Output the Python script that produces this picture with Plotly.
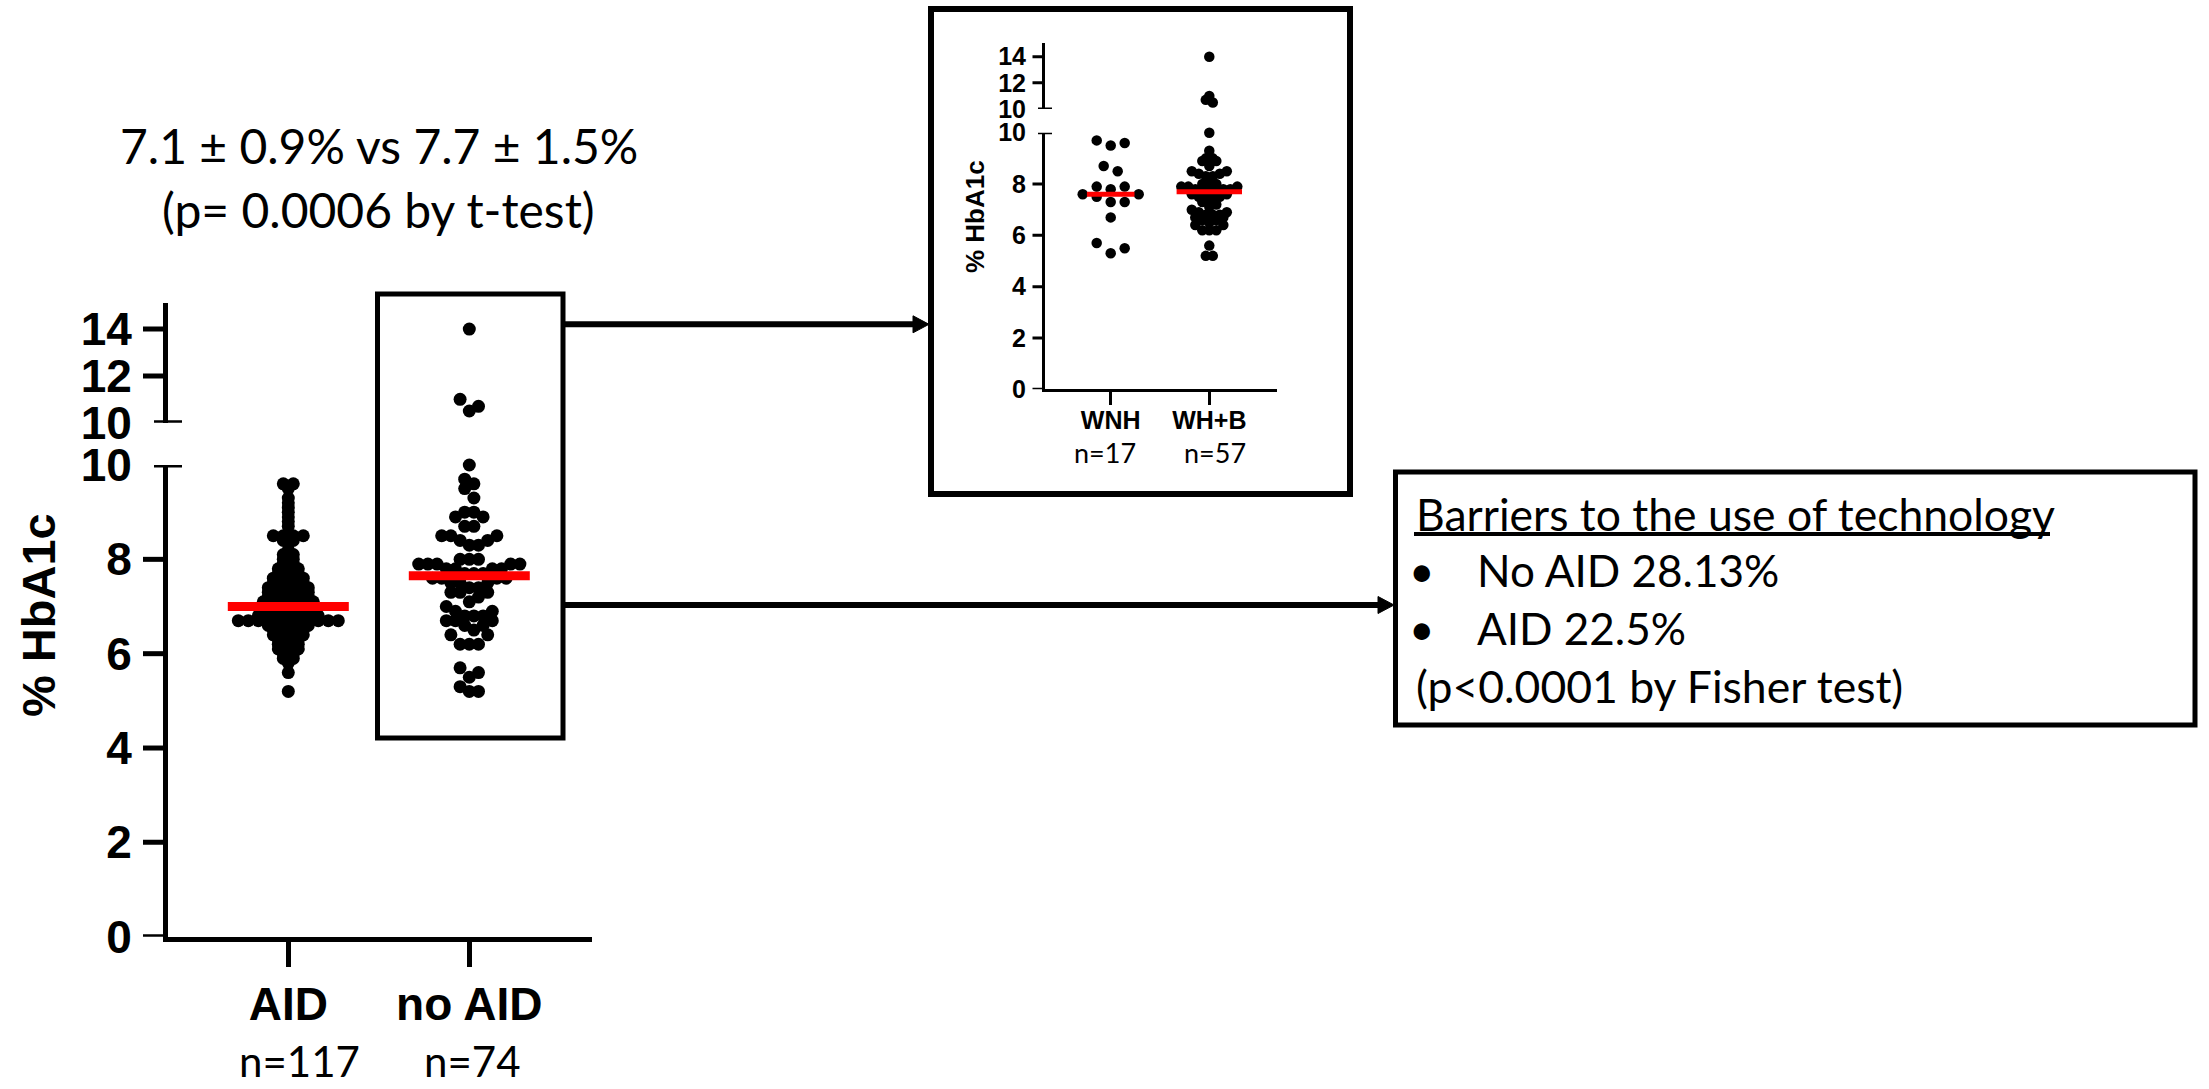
import statistics
import plotly.graph_objects as go

# ---------------- data ----------------
groups = ["AID", "no AID"]
group_n_labels = ["n=117", "n=74"]

aid_hba1c = [
    9.6, 9.6, 9.5, 9.3, 9.2, 9.1, 9.0, 8.9, 8.8, 8.7,
    8.5, 8.5, 8.5, 8.5, 8.4, 8.4, 8.2, 8.1, 8.1, 8.0,
    8.0, 7.9, 7.9, 7.8, 7.8, 7.8, 7.7, 7.7, 7.7, 7.6,
    7.6, 7.6, 7.6, 7.5, 7.5, 7.5, 7.5, 7.4, 7.4, 7.4,
    7.4, 7.4, 7.3, 7.3, 7.3, 7.3, 7.3, 7.2, 7.2, 7.2,
    7.2, 7.2, 7.1, 7.1, 7.1, 7.1, 7.1, 7.1, 7.0, 7.0,
    7.0, 7.0, 7.0, 7.0, 6.9, 6.9, 6.9, 6.9, 6.9, 6.9,
    6.8, 6.8, 6.8, 6.8, 6.8, 6.8, 6.8, 6.7, 6.7, 6.7,
    6.7, 6.7, 6.7, 6.7, 6.7, 6.7, 6.7, 6.7, 6.6, 6.6,
    6.6, 6.6, 6.6, 6.5, 6.5, 6.5, 6.5, 6.4, 6.4, 6.4,
    6.4, 6.3, 6.3, 6.3, 6.2, 6.2, 6.2, 6.1, 6.1, 6.1,
    6.0, 6.0, 5.9, 5.9, 5.8, 5.6, 5.2,
]

subgroups = ["WNH", "WH+B"]
subgroup_n_labels = ["n=17", "n=57"]

wnh_hba1c = [9.7, 9.6, 9.5, 8.7, 8.5, 7.9, 7.9, 7.8, 7.6, 7.6,
             7.5, 7.3, 7.3, 6.7, 5.7, 5.5, 5.3]

whb_hba1c = [14.0, 11.0, 10.7, 10.5, 10.0, 9.3, 9.0, 9.0, 8.9, 8.9,
             8.7, 8.5, 8.5, 8.4, 8.4, 8.3, 8.3, 8.0, 8.0, 8.0,
             7.9, 7.9, 7.9, 7.8, 7.8, 7.8, 7.7, 7.7, 7.7, 7.6,
             7.6, 7.5, 7.5, 7.4, 7.4, 7.3, 7.2, 7.1, 7.0, 6.9,
             6.9, 6.8, 6.8, 6.8, 6.7, 6.7, 6.6, 6.6, 6.5, 6.4,
             6.4, 6.2, 6.2, 6.2, 5.6, 5.2, 5.2]

# the no-AID group is the union of the two ethnicity subgroups
no_aid_hba1c = wnh_hba1c + whb_hba1c

lower_ticks = [0, 2, 4, 6, 8, 10]
upper_ticks = [10, 12, 14]
axis_break = 10

summary_lines = ["7.1 ± 0.9% vs 7.7 ± 1.5%", "(p= 0.0006 by t-test)"]
barrier_title = "Barriers to the use of technology"
barrier_items = ["No AID 28.13%", "AID 22.5%"]
barrier_note = "(p<0.0001 by Fisher test)"
y_title = "% HbA1c"

# ---------------- page geometry (pixels) ----------------
W, H = 2209, 1089


def px(x):
    return x / W


def py(y):
    return 1 - y / H


BOLD = "Liberation Sans, Arial, sans-serif"
TEXT = "Lato, Carlito, Calibri, sans-serif"

# main panel: bins/spacing (px) control how the scatter-dot rows are built
M = dict(ax=168, xend=592, cats=(288.3, 469.3), y0=936.7, y10=465.0,
         up10=422.7, uptop=302.7, up_ppu=23.4, lw=5, ticklen=25, cap=14,
         dot=13, bins=(4.0, 13.0), spacing=(10.0, 9.2), font=46)
# inset panel
S = dict(ax=1045, xend=1276.7, cats=(1110.7, 1209.3), y0=389.3, y10=132.7,
         up10=109.0, uptop=43.3, up_ppu=13.07, lw=3, ticklen=12.5, cap=7,
         dot=10.5, bins=(10.5, 6.4), spacing=(14.0, 7.0), font=25)


def panel_scales(p):
    x_ppu = p["cats"][1] - p["cats"][0]
    xr = [(p["ax"] - p["cats"][0]) / x_ppu, (p["xend"] - p["cats"][0]) / x_ppu]
    lo_ppu = (p["y0"] - p["y10"]) / 10.0
    up_top = axis_break + (p["up10"] - p["uptop"]) / p["up_ppu"]
    return x_ppu, xr, lo_ppu, up_top


def dot_rows(values, lo_ppu, up_ppu, bin_px, spacing):
    """Scatter-dot layout: values closer than bin_px share a centred row."""
    def ypix(v):
        if v > axis_break:
            return 100000 + (v - axis_break) * up_ppu
        return v * lo_ppu

    order = sorted(range(len(values)), key=lambda i: ypix(values[i]))
    rows, cur, start = [], [], None
    for i in order:
        y = ypix(values[i])
        if cur and y - start < bin_px:
            cur.append(i)
        else:
            if cur:
                rows.append(cur)
            cur, start = [i], y
    rows.append(cur)

    offs = [0.0] * len(values)
    for row in rows:
        n = len(row)
        slots = [(j - (n - 1) / 2) * spacing for j in range(n)]
        slots.sort(key=lambda s: (round(abs(s), 6), -s))
        for i, s in zip(row, slots):
            offs[i] = s
    return offs


fig = go.Figure()


def add_panel(p, series, xa, ya_lo, ya_up, median_halfwidths, median_width):
    x_ppu, xr, lo_ppu, up_top = panel_scales(p)
    for gi, vals in enumerate(series):
        offs = dot_rows(vals, lo_ppu, p["up_ppu"], p["bins"][gi], p["spacing"][gi])
        for axis_name, keep in ((ya_lo, lambda v: v <= axis_break),
                                (ya_up, lambda v: v > axis_break)):
            xs = [gi + o / x_ppu for v, o in zip(vals, offs) if keep(v)]
            ys = [v for v in vals if keep(v)]
            fig.add_trace(go.Scatter(
                x=xs, y=ys, mode="markers", xaxis=xa, yaxis=axis_name,
                cliponaxis=False,
                marker=dict(size=p["dot"], color="black", line=dict(width=0)),
                showlegend=False, hoverinfo="y"))
    for gi, vals in enumerate(series):
        med = statistics.median(vals)
        hw = median_halfwidths[gi] / x_ppu
        fig.add_trace(go.Scatter(
            x=[gi - hw, gi + hw], y=[med, med], mode="lines", cliponaxis=False,
            xaxis=xa, yaxis=ya_lo, line=dict(color="#ff0000", width=median_width),
            showlegend=False, hoverinfo="skip"))
    return x_ppu, xr, lo_ppu, up_top


mx_ppu, mxr, mlo, mup_top = add_panel(M, [aid_hba1c, no_aid_hba1c], "x", "y", "y2",
                                      [60.5, 60.5], 9)
sx_ppu, sxr, slo, sup_top = add_panel(S, [wnh_hba1c, whb_hba1c], "x2", "y3", "y4",
                                      [23.8, 32.7], 5)


def yaxis_cfg(p, dom, rng, anchor, ticks, standoff):
    return dict(domain=dom, range=rng, anchor=anchor, showline=True,
                linecolor="black", linewidth=p["lw"], ticks="", tickvals=ticks,
                tickfont=dict(family=BOLD, size=p["font"], color="black", weight="bold"),
                ticklabelstandoff=standoff, showgrid=False, zeroline=False,
                automargin=False, fixedrange=True)


def xaxis_cfg(p, rng, anchor, labels, standoff):
    return dict(domain=[px(p["ax"]), px(p["xend"])], range=rng, anchor=anchor,
                showline=True, linecolor="black", linewidth=p["lw"],
                ticks="outside", ticklen=p["ticklen"], tickwidth=p["lw"],
                tickcolor="black", tickvals=[0, 1], ticktext=labels,
                tickfont=dict(family=BOLD, size=p["font"], color="black", weight="bold"),
                ticklabelstandoff=standoff, showgrid=False, zeroline=False,
                automargin=False, fixedrange=True)


fig.update_layout(
    width=W, height=H,
    margin=dict(l=0, r=0, t=0, b=0, pad=0, autoexpand=False),
    paper_bgcolor="white", plot_bgcolor="rgba(0,0,0,0)", showlegend=False,
    xaxis=xaxis_cfg(M, mxr, "y", groups, -2),
    yaxis=yaxis_cfg(M, [py(M["y0"]), py(M["y10"])], [0, 10], "x", lower_ticks, 22),
    yaxis2=yaxis_cfg(M, [py(M["up10"]), py(M["uptop"])], [10, mup_top], "x",
                     upper_ticks, 22),
    xaxis2=xaxis_cfg(S, sxr, "y3", subgroups, -6),
    yaxis3=yaxis_cfg(S, [py(S["y0"]), py(S["y10"])], [0, 10], "x2", lower_ticks, 11),
    yaxis4=yaxis_cfg(S, [py(S["up10"]), py(S["uptop"])], [10, sup_top], "x2",
                     upper_ticks, 11),
)

shapes = []


def hline(x0, x1, y, yref, width):
    shapes.append(dict(type="line", xref="paper", yref=yref, x0=px(x0), x1=px(x1),
                       y0=y, y1=y, line=dict(color="black", width=width)))


# y-axis ticks and break caps
for p, lo_ref, up_ref in ((M, "y", "y2"), (S, "y3", "y4")):
    for t in lower_ticks:
        if t == axis_break:
            hline(p["ax"] - p["cap"], p["ax"] + p["cap"], t, lo_ref, p["lw"])
        else:
            hline(p["ax"] - p["ticklen"], p["ax"], t, lo_ref, p["lw"])
    for t in upper_ticks:
        if t == axis_break:
            hline(p["ax"] - p["cap"], p["ax"] + p["cap"], t, up_ref, p["lw"])
        else:
            hline(p["ax"] - p["ticklen"], p["ax"], t, up_ref, p["lw"])


def rect(x0, y0, x1, y1, width):
    shapes.append(dict(type="rect", xref="paper", yref="paper",
                       x0=px(x0), x1=px(x1), y0=py(y1), y1=py(y0),
                       line=dict(color="black", width=width), fillcolor="rgba(0,0,0,0)"))


def arrow(x0, x1, y, width=6, head_len=16, head_h=17):
    shapes.append(dict(type="line", xref="paper", yref="paper",
                       x0=px(x0), x1=px(x1 - head_len + 2), y0=py(y), y1=py(y),
                       line=dict(color="black", width=width)))
    path = "M {} {} L {} {} L {} {} Z".format(
        px(x1 - head_len), py(y - head_h / 2), px(x1), py(y),
        px(x1 - head_len), py(y + head_h / 2))
    shapes.append(dict(type="path", xref="paper", yref="paper", path=path,
                       fillcolor="black", line=dict(color="black", width=1)))


rect(377.5, 294, 563, 738, 5)        # frame around the no-AID dots
rect(931, 9, 1350, 494, 6)           # inset frame
rect(1395.5, 472, 2195, 725, 5)      # barriers frame
arrow(563, 929, 324.3)
arrow(563, 1394, 605)

# underline for the barriers heading
shapes.append(dict(type="line", xref="paper", yref="paper", x0=px(1414), x1=px(2050),
                   y0=py(534), y1=py(534), line=dict(color="black", width=4)))

fig.update_layout(shapes=shapes)

ann = []


def text(x, y, s, size, family=TEXT, xanchor="center", yanchor="middle",
         angle=0, bold=False):
    ann.append(dict(x=px(x), y=py(y), xref="paper", yref="paper", text=s,
                    showarrow=False, xanchor=xanchor, yanchor=yanchor,
                    textangle=angle,
                    font=dict(family=family, size=size, color="black",
                              weight="bold" if bold else "normal")))


text(379, 145, summary_lines[0], 48)
text(378, 210, summary_lines[1], 48)

text(38, 615, y_title, 47, family=BOLD, angle=-90, bold=True)
text(975, 217, y_title, 26, family=BOLD, angle=-90, bold=True)

for cx, lab in zip((299, 472.5), group_n_labels):
    text(cx, H - 1, lab, 42, yanchor="bottom")
for cx, lab in zip((1105, 1215), subgroup_n_labels):
    text(cx, 452, lab, 27)

text(1414, 513, barrier_title, 44.5, xanchor="left")
for yy, item in zip((570, 628), barrier_items):
    text(1422, yy, "•", 44, xanchor="center")
    text(1475, yy, item, 44, xanchor="left")
text(1414, 685, barrier_note, 44.5, xanchor="left")

fig.update_layout(annotations=ann)

fig.write_html("out.html")
